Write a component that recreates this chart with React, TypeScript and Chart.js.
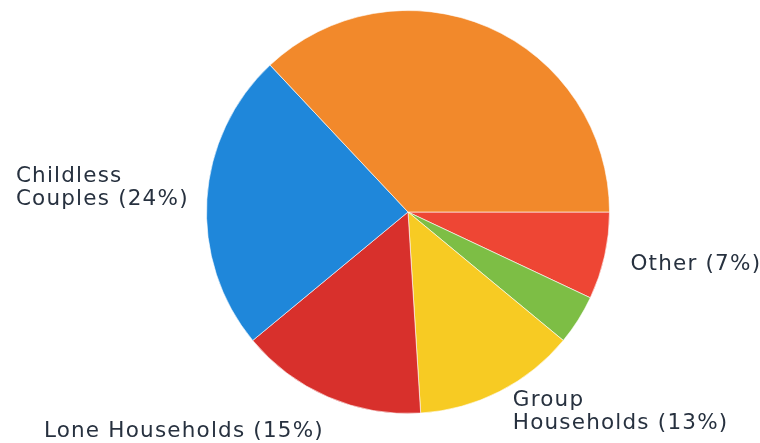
import React, { useEffect, useRef } from "react";
import { Chart, registerables } from "chart.js";

Chart.register(...registerables);

// Data (clockwise from 3 o'clock)
const categories = ["Other", "Group Households (small)", "Group Households", "Lone Households", "Childless Couples", "Couples with Children"];
const values = [7, 4, 13, 15, 24, 37];
const colors = ["#EE4634", "#7DBE45", "#F7CB23", "#D8302C", "#1F87DA", "#F2892B"];

// Label texts (lines) per slice
const labelLines: string[][] = [["Other (7%)"], [], ["Group", "Households (13%)"], ["Lone Households (15%)"], ["Childless", "Couples (24%)"], []];
// label baseline anchor relative to pie center, in units of radius
const labelOffsets: [number, number][] = [
  [1.104, 0.287],
  [0, 0],
  [0.52, 0.965],
  [-1.807, 1.119],
  [-1.946, -0.149],
  [0, 0],
];

const labelPlugin = {
  id: "sliceLabels",
  afterDatasetsDraw(chart: any) {
    const ctx = chart.ctx;
    const meta = chart.getDatasetMeta(0);
    ctx.save();
    ctx.font = "21.5px 'DejaVu Sans', Verdana, sans-serif";
    (ctx as any).letterSpacing = "1.2px";
    ctx.fillStyle = "#27313F";
    ctx.textBaseline = "alphabetic";
    ctx.textAlign = "left";
    meta.data.forEach((arc: any, i: number) => {
      const lines = labelLines[i];
      if (!lines || !lines.length) return;
      const [fx, fy] = labelOffsets[i];
      const r = arc.outerRadius;
      const x = arc.x + fx * r;
      const y = arc.y + fy * r;
      lines.forEach((ln, k) => ctx.fillText(ln, x, y + k * 23));
    });
    ctx.restore();
  },
};

export default function App() {
  const ref = useRef<HTMLCanvasElement | null>(null);
  useEffect(() => {
    if (!ref.current) return;
    const chart = new Chart(ref.current, {
      type: "pie",
      data: {
        labels: categories,
        datasets: [
          {
            data: values,
            backgroundColor: colors,
            borderColor: "rgba(255,255,255,0.6)",
            borderWidth: 1,
          },
        ],
      },
      options: {
        animation: false,
        responsive: false,
        rotation: 90,
        layout: { padding: { left: 206, right: 150, top: 10, bottom: 29 } },
        plugins: { legend: { display: false }, tooltip: { enabled: false } },
      },
      plugins: [labelPlugin],
    });
    return () => chart.destroy();
  }, []);
  return (
    <div style={{ position: "fixed", left: 0, top: 0, width: 760, height: 443, background: "#fff" }}>
      <canvas ref={ref} width={760} height={443} />
    </div>
  );
}
